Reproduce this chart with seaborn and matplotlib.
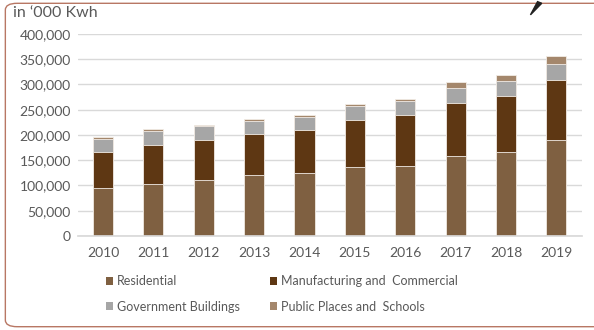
import numpy as np
import pandas as pd
import matplotlib
matplotlib.use("Agg")
import matplotlib.pyplot as plt
import seaborn as sns
from matplotlib.patches import FancyBboxPatch, Patch, Polygon

# values in '000 Kwh
years = ["2010", "2011", "2012", "2013", "2014", "2015", "2016", "2017", "2018", "2019"]
residential = [95000, 103500, 111500, 121000, 125000, 137000, 138500, 159000, 167000, 191000]
manufacturing = [70500, 77500, 79500, 81000, 84000, 92000, 100500, 103500, 109500, 117000]
government = [27000, 27000, 26000, 26000, 27000, 28500, 29000, 31500, 29500, 33000]
public = [3300, 3000, 2800, 4000, 3600, 3200, 4000, 11000, 13400, 16000]

labels = ["Residential", "Manufacturing and  Commercial",
          "Government Buildings", "Public Places and  Schools"]
colors = ["#7f6041", "#5e3713", "#a6a6a6", "#a4876c"]

sns.set_theme(style="white")
plt.rcParams["font.family"] = ["Lato", "DejaVu Sans"]
text_col = "#595959"

df = pd.DataFrame({"year": years, "res": residential, "man": manufacturing,
                   "gov": government, "pub": public})
# cumulative tops so the layers can be drawn back to front
df["c1"] = df["res"]
df["c2"] = df["c1"] + df["man"]
df["c3"] = df["c2"] + df["gov"]
df["c4"] = df["c3"] + df["pub"]

fig = plt.figure(figsize=(5.94, 3.3), dpi=100)
ax = fig.add_axes([0.131, 0.285, 0.848, 0.612])

for col, c in zip(["c4", "c3", "c2", "c1"], colors[::-1]):
    sns.barplot(data=df, x="year", y=col, color=c, width=0.4,
                edgecolor="#f2ece6", linewidth=0.6, saturation=1, ax=ax)

ax.set_ylim(0, 400000)
ax.set_yticks(np.arange(0, 400001, 50000))
ax.set_yticklabels([f"{v:,}" for v in range(0, 400001, 50000)])
ax.yaxis.grid(True, color="#d9d9d9", linewidth=1)
ax.set_axisbelow(True)
for s in ["top", "right", "left"]:
    ax.spines[s].set_visible(False)
ax.spines["bottom"].set_color("#d9d9d9")
ax.tick_params(axis="both", length=0, labelsize=10, colors=text_col)
ax.tick_params(axis="x", pad=8)
ax.tick_params(axis="y", pad=5)
ax.set_xlabel("")
ax.set_ylabel("")

fig.text(0.022, 0.96, "in \u2018000 Kwh", fontsize=11.5, color=text_col,
         ha="left", va="center")

handles = [Patch(facecolor=c, edgecolor="none") for c in colors]
order = [0, 2, 1, 3]
fig.legend([handles[i] for i in order], [labels[i] for i in order],
           ncol=2, loc="center left", bbox_to_anchor=(0.16, 0.109), frameon=False,
           fontsize=9, handlelength=0.55, handleheight=0.55, handletextpad=0.3,
           columnspacing=2.45, labelspacing=1.05, labelcolor=text_col)

# rounded frame around the chart
frame = FancyBboxPatch((0.009, 0.01), 1.2, 0.98, boxstyle="round,pad=0,rounding_size=0.02",
                       transform=fig.transFigure, facecolor="none",
                       edgecolor="#b87764", linewidth=1.0, clip_on=False)
fig.patches.append(frame)
pen = Polygon([[0.893, 0.955], [0.905, 0.995], [0.912, 0.99]], closed=True,
              transform=fig.transFigure, color="#222222")
fig.patches.append(pen)

fig.savefig("out.png", dpi=100)
